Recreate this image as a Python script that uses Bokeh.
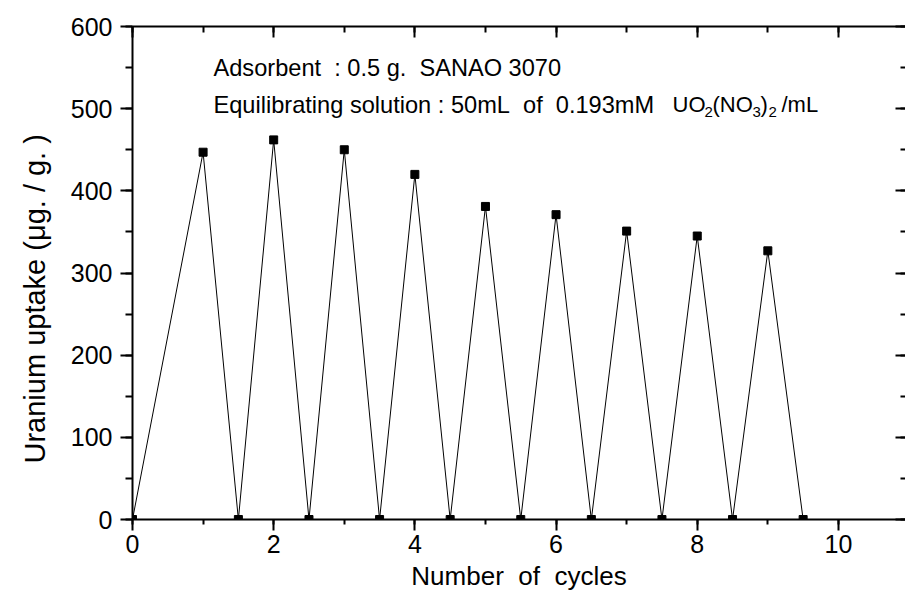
from bokeh.plotting import figure
from bokeh.models import (Range1d, LinearAxis, SingleIntervalTicker, Label, Title,
                          CustomJSTickFormatter)
from bokeh.embed import file_html
from bokeh.resources import INLINE

# ---- data ----
peak_cycles = [1, 2, 3, 4, 5, 6, 7, 8, 9]
peak_uptake = [447, 462, 450, 420, 381, 371, 351, 345, 327]
elution_cycles = [0, 1.5, 2.5, 3.5, 4.5, 5.5, 6.5, 7.5, 8.5, 9.5]
elution_uptake = [0, 0, 0, 0, 0, 0, 0, 0, 0, 0]
x_tick_labels = ["0", "2", "4", "6", "8", "10"]
y_tick_labels = ["0", "100", "200", "300", "400", "500", "600"]

FONT = "Liberation Sans"
X_END = 10.95
SP2 = "\u00a0 "  # visible double space

# line path: start at first elution point, then alternate peak / elution
line_x = [elution_cycles[0]]
line_y = [elution_uptake[0]]
for i in range(len(peak_cycles)):
    line_x += [peak_cycles[i], elution_cycles[i + 1]]
    line_y += [peak_uptake[i], elution_uptake[i + 1]]

p = figure(width=905, height=600, x_range=Range1d(0, X_END), y_range=Range1d(0, 600),
           output_backend="svg", toolbar_location=None,
           min_border_left=132, min_border_right=0, min_border_top=26, min_border_bottom=81,
           x_axis_label="Number" + SP2 + "of" + SP2 + "cycles")
p.outline_line_color = None
p.xgrid.visible = False
p.ygrid.visible = False
p.background_fill_color = "white"
p.border_fill_color = "white"

xt = SingleIntervalTicker(interval=2, num_minor_ticks=2)
yt = SingleIntervalTicker(interval=100, num_minor_ticks=2)

xa = p.xaxis[0]
xa.ticker = xt
xa.major_label_overrides = {i * 2: s for i, s in enumerate(x_tick_labels)}
ya = p.yaxis[0]
ya.ticker = yt
ya.major_label_overrides = {i * 100: s for i, s in enumerate(y_tick_labels)}

for ax in (xa, ya):
    ax.axis_line_width = 2
    ax.axis_line_color = "black"
    ax.major_tick_line_width = 2
    ax.minor_tick_line_width = 2
    ax.major_tick_in = 0
    ax.minor_tick_in = 0
    ax.major_label_text_font = FONT
    ax.major_label_text_font_size = "25px"
    ax.major_label_text_color = "black"
    ax.axis_label_text_font = FONT
    ax.axis_label_text_font_style = "normal"
    ax.axis_label_text_color = "black"

xa.major_tick_out = 11
xa.minor_tick_out = 5
xa.major_label_standoff = 4
xa.axis_label_text_font_size = "26px"
xa.axis_label_standoff = 5

ya.major_tick_out = 12
ya.minor_tick_out = 7
ya.major_label_standoff = 8

empty = CustomJSTickFormatter(code="return ''")
top = LinearAxis(ticker=SingleIntervalTicker(interval=2, num_minor_ticks=2), formatter=empty,
                 axis_line_width=2, major_tick_in=11, major_tick_out=0,
                 minor_tick_in=6, minor_tick_out=0, major_tick_line_width=2,
                 minor_tick_line_width=2, major_label_standoff=0)
p.add_layout(top, "above")
right = LinearAxis(ticker=SingleIntervalTicker(interval=100, num_minor_ticks=2), formatter=empty,
                   axis_line_color=None, major_tick_in=10, major_tick_out=0,
                   minor_tick_in=5, minor_tick_out=0, major_tick_line_width=2,
                   minor_tick_line_width=2, major_label_standoff=0)
p.add_layout(right, "right")

# y-axis title as a side title, so it can sit below the frame centre like the reference
ytitle = Title(text="Uranium uptake (\u03bcg. / g. )", text_font=FONT, text_font_size="29px",
               text_font_style="normal", text_color="black", align="left",
               offset=56, standoff=33)
p.add_layout(ytitle, "left")

p.line(line_x, line_y, line_color="black", line_width=1)
p.scatter(peak_cycles, peak_uptake, marker="square", size=8, color="black")
p.scatter(elution_cycles, elution_uptake, marker="square", size=8, color="black")

# ---- annotation text ----
FRAME_L, FRAME_R, FRAME_T, FRAME_B = 132, 905, 26, 519
def px_x(px):
    return (px - FRAME_L) / (FRAME_R - FRAME_L) * X_END
def px_y(py):
    return (FRAME_B - py) / (FRAME_B - FRAME_T) * 600

def lab(text, px, py, size):
    p.add_layout(Label(x=px_x(px), y=px_y(py), text=text, text_font=FONT,
                       text_font_size=size, text_color="black",
                       text_baseline="alphabetic", text_align="left"))

lab("Adsorbent" + SP2 + ": 0.5 g." + SP2 + "SANAO 3070", 213, 67, "23.6px")
lab("Equilibrating solution : 50mL" + SP2 + "of" + SP2 + "0.193mM", 213, 104, "23.6px")
lab("UO", 672, 104, "22px")
lab("2", 704, 111, "15px")
lab("(NO", 712, 104, "22px")
lab("3", 752, 111, "15px")
lab(")", 760, 104, "22px")
lab("2", 768, 111, "15px")
lab("/mL", 781, 104, "22px")

open("out.html", "w").write(file_html(p, INLINE))
